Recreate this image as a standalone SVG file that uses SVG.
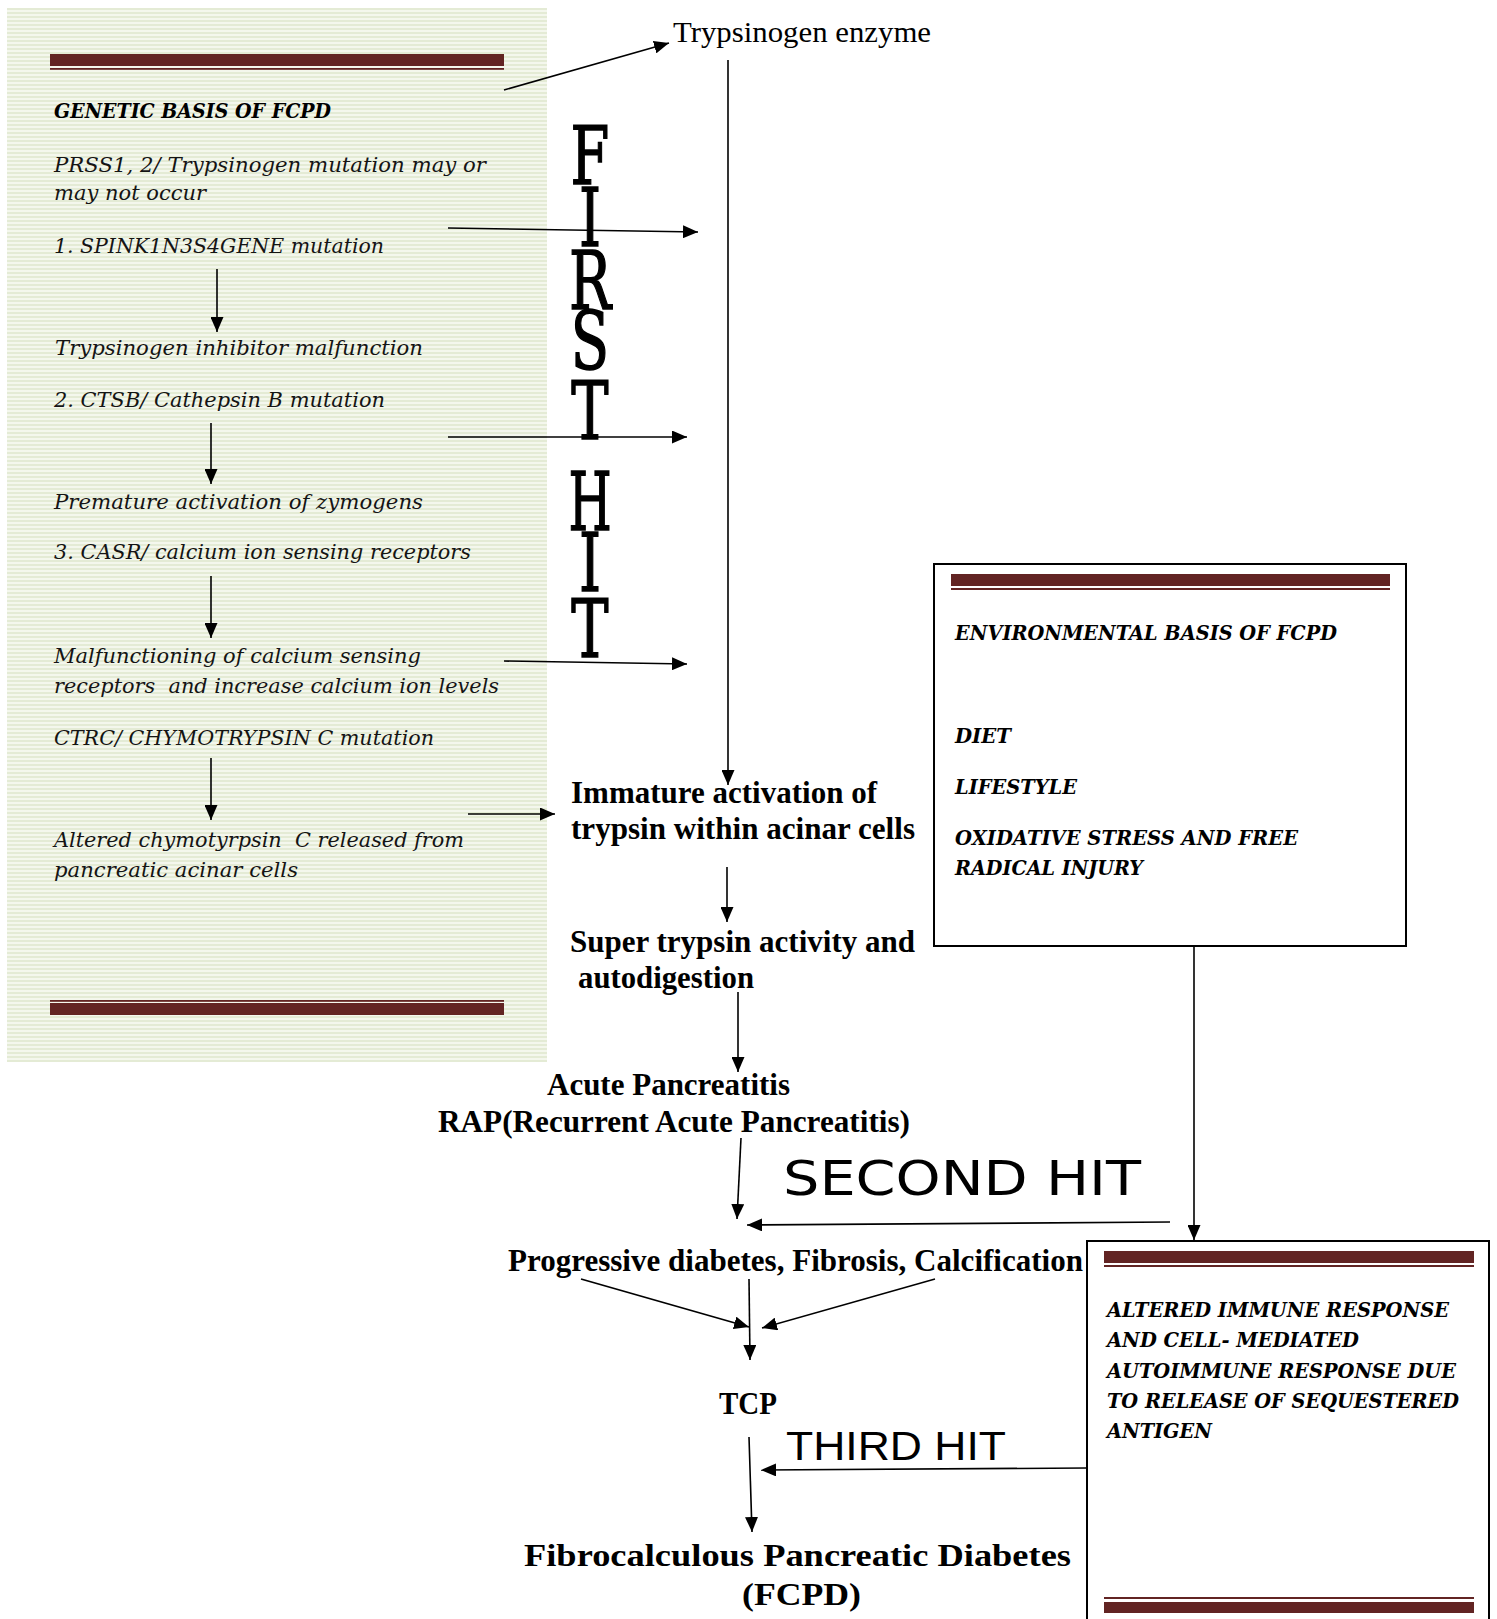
<svg xmlns="http://www.w3.org/2000/svg" width="1497" height="1619" viewBox="0 0 1497 1619">
<style>
.it{font-family:"DejaVu Serif",serif;font-style:italic;font-size:21px;fill:#141414}
.bi{font-family:"DejaVu Serif",serif;font-style:italic;font-weight:bold;font-size:21px;fill:#000}
.tb{font-family:"Liberation Serif","Times New Roman",serif;font-weight:bold;font-size:31px;fill:#000}
.tr{font-family:"Liberation Serif","Times New Roman",serif;font-size:30px;fill:#000}
.fh{font-family:"DejaVu Serif",serif;font-size:80px;fill:#000;stroke:#000;stroke-width:1.5}
.sh{font-family:"DejaVu Sans",sans-serif;font-size:48px;fill:#000}
.th{font-family:"Liberation Sans",Arial,sans-serif;font-size:41px;fill:#000}
.bar{fill:#622423}
.box{fill:#fff;stroke:#000;stroke-width:2}
.ln{stroke:#000;stroke-width:1.6;fill:none;marker-end:url(#ah)}
.pre{white-space:pre}
</style>
<defs>
<pattern id="stripes" width="8" height="4" patternUnits="userSpaceOnUse">
<rect width="8" height="4" fill="#f4f7ed"/>
<rect width="8" height="2" fill="#e4ebd5"/>
</pattern>
<marker id="ah" viewBox="0 0 15 13" refX="15" refY="6.5" markerWidth="15" markerHeight="13" markerUnits="userSpaceOnUse" orient="auto">
<path d="M0,0 L15,6.5 L0,13 z" fill="#000"/>
</marker>
</defs>
<rect width="1497" height="1619" fill="#fff"/>

<g id="genetic-panel">
<rect x="7" y="8" width="540" height="1054" fill="url(#stripes)"/>
<rect class="bar" x="50" y="54" width="454" height="12"/>
<rect class="bar" x="50" y="68" width="454" height="1.8"/>
<rect class="bar" x="50" y="1000" width="454" height="1.8"/>
<rect class="bar" x="50" y="1003" width="454" height="12"/>
<text class="bi" x="54" y="118" textLength="277" lengthAdjust="spacingAndGlyphs">GENETIC BASIS OF FCPD</text>
<text class="it" x="54" y="172" textLength="432" lengthAdjust="spacingAndGlyphs">PRSS1, 2/ Trypsinogen mutation may or</text>
<text class="it" x="54" y="200" textLength="152" lengthAdjust="spacingAndGlyphs">may not occur</text>
<text class="it" x="54" y="253" textLength="330" lengthAdjust="spacingAndGlyphs">1. SPINK1N3S4GENE mutation</text>
<text class="it" x="55" y="355" textLength="368" lengthAdjust="spacingAndGlyphs">Trypsinogen inhibitor malfunction</text>
<text class="it" x="54" y="407" textLength="331" lengthAdjust="spacingAndGlyphs">2. CTSB/ Cathepsin B mutation</text>
<text class="it" x="54" y="509" textLength="369" lengthAdjust="spacingAndGlyphs">Premature activation of zymogens</text>
<text class="it" x="54" y="559" textLength="417" lengthAdjust="spacingAndGlyphs">3. CASR/ calcium ion sensing receptors</text>
<text class="it" x="54" y="663" textLength="367" lengthAdjust="spacingAndGlyphs">Malfunctioning of calcium sensing</text>
<text class="it pre" x="54" y="693" textLength="445" lengthAdjust="spacingAndGlyphs">receptors  and increase calcium ion levels</text>
<text class="it" x="54" y="745" textLength="380" lengthAdjust="spacingAndGlyphs">CTRC/ CHYMOTRYPSIN C mutation</text>
<text class="it pre" x="54" y="847" textLength="410" lengthAdjust="spacingAndGlyphs">Altered chymotyrpsin  C released from</text>
<text class="it" x="54" y="877" textLength="244" lengthAdjust="spacingAndGlyphs">pancreatic acinar cells</text>
</g>

<g id="first-hit-label">
<text class="fh" text-anchor="middle" transform="translate(590,184) scale(0.7,1)">F</text>
<text class="fh" text-anchor="middle" transform="translate(590,246) scale(0.7,1)">I</text>
<text class="fh" text-anchor="middle" transform="translate(590,309) scale(0.7,1)">R</text>
<text class="fh" text-anchor="middle" transform="translate(590,369) scale(0.7,1)">S</text>
<text class="fh" text-anchor="middle" transform="translate(590,439) scale(0.7,1)">T</text>
<text class="fh" text-anchor="middle" transform="translate(590,530) scale(0.62,1)">H</text>
<text class="fh" text-anchor="middle" transform="translate(590,591) scale(0.7,1)">I</text>
<text class="fh" text-anchor="middle" transform="translate(590,657) scale(0.7,1)">T</text>
</g>

<g id="trypsinogen">
<text class="tr" x="673" y="42" textLength="258" lengthAdjust="spacingAndGlyphs">Trypsinogen enzyme</text>
</g>

<g id="immature-activation">
<text class="tb" x="571" y="803" textLength="306" lengthAdjust="spacingAndGlyphs">Immature activation of</text>
<text class="tb" x="571" y="839" textLength="344" lengthAdjust="spacingAndGlyphs">trypsin within acinar cells</text>
</g>

<g id="super-trypsin">
<text class="tb" x="570" y="952" textLength="345" lengthAdjust="spacingAndGlyphs">Super trypsin activity and</text>
<text class="tb" x="578" y="988" textLength="176" lengthAdjust="spacingAndGlyphs">autodigestion</text>
</g>

<g id="acute-pancreatitis">
<text class="tb" x="547" y="1095" textLength="243" lengthAdjust="spacingAndGlyphs">Acute Pancreatitis</text>
<text class="tb" x="438" y="1132" textLength="472" lengthAdjust="spacingAndGlyphs">RAP(Recurrent Acute Pancreatitis)</text>
</g>

<g id="progressive">
<text class="tb" x="508" y="1271" textLength="575" lengthAdjust="spacingAndGlyphs">Progressive diabetes, Fibrosis, Calcification</text>
</g>

<g id="tcp">
<text class="tb" x="719" y="1414" textLength="58" lengthAdjust="spacingAndGlyphs">TCP</text>
</g>

<g id="fcpd">
<text class="tb" x="524" y="1566" font-size="37" textLength="547" lengthAdjust="spacingAndGlyphs">Fibrocalculous Pancreatic Diabetes</text>
<text class="tb" x="742" y="1605" font-size="37" textLength="119" lengthAdjust="spacingAndGlyphs">(FCPD)</text>
</g>

<g id="environmental-box">
<rect class="box" x="934" y="564" width="472" height="382"/>
<rect class="bar" x="951" y="574" width="439" height="12"/>
<rect class="bar" x="951" y="588" width="439" height="2"/>
<text class="bi" x="955" y="640" textLength="382" lengthAdjust="spacingAndGlyphs">ENVIRONMENTAL BASIS OF FCPD</text>
<text class="bi" x="955" y="743" textLength="56" lengthAdjust="spacingAndGlyphs">DIET</text>
<text class="bi" x="955" y="794" textLength="122" lengthAdjust="spacingAndGlyphs">LIFESTYLE</text>
<text class="bi" x="955" y="845" textLength="343" lengthAdjust="spacingAndGlyphs">OXIDATIVE STRESS AND FREE</text>
<text class="bi" x="955" y="875" textLength="188" lengthAdjust="spacingAndGlyphs">RADICAL INJURY</text>
</g>

<g id="immune-box">
<rect class="box" x="1087" y="1241" width="402" height="420"/>
<rect class="bar" x="1104" y="1251" width="370" height="12"/>
<rect class="bar" x="1104" y="1265" width="370" height="2"/>
<rect class="bar" x="1104" y="1597" width="370" height="2"/>
<rect class="bar" x="1104" y="1602" width="370" height="11"/>
<text class="bi" x="1107" y="1317" textLength="342" lengthAdjust="spacingAndGlyphs">ALTERED IMMUNE RESPONSE</text>
<text class="bi" x="1107" y="1347" textLength="252" lengthAdjust="spacingAndGlyphs">AND CELL- MEDIATED</text>
<text class="bi" x="1107" y="1378" textLength="349" lengthAdjust="spacingAndGlyphs">AUTOIMMUNE RESPONSE DUE</text>
<text class="bi" x="1107" y="1408" textLength="352" lengthAdjust="spacingAndGlyphs">TO RELEASE OF SEQUESTERED</text>
<text class="bi" x="1107" y="1438" textLength="105" lengthAdjust="spacingAndGlyphs">ANTIGEN</text>
</g>

<g id="hit-labels">
<text class="sh" x="783" y="1195" textLength="358" lengthAdjust="spacingAndGlyphs">SECOND HIT</text>
<text class="th" x="786" y="1460" textLength="220" lengthAdjust="spacingAndGlyphs">THIRD HIT</text>
</g>

<g id="connectors">
<line class="ln" x1="217" y1="269" x2="217" y2="332"/>
<line class="ln" x1="211" y1="423" x2="211" y2="484"/>
<line class="ln" x1="211" y1="576" x2="211" y2="638"/>
<line class="ln" x1="211" y1="758" x2="211" y2="820"/>
<line class="ln" x1="504" y1="90" x2="669" y2="43"/>
<line class="ln" x1="448" y1="228" x2="698" y2="232"/>
<line class="ln" x1="448" y1="437" x2="687" y2="437"/>
<line class="ln" x1="504" y1="661" x2="687" y2="664"/>
<line class="ln" x1="468" y1="814" x2="555" y2="814"/>
<line class="ln" x1="728" y1="60" x2="728" y2="785"/>
<line class="ln" x1="727" y1="867" x2="727" y2="922"/>
<line class="ln" x1="738" y1="992" x2="738" y2="1072"/>
<line class="ln" x1="741" y1="1138" x2="737" y2="1219"/>
<line class="ln" x1="1170" y1="1222" x2="747" y2="1225"/>
<line class="ln" x1="1194" y1="946" x2="1194" y2="1240"/>
<line class="ln" x1="581" y1="1279" x2="749" y2="1327"/>
<line class="ln" x1="935" y1="1279" x2="762" y2="1328"/>
<line class="ln" x1="749" y1="1279" x2="750" y2="1360"/>
<line class="ln" x1="749" y1="1437" x2="752" y2="1532"/>
<line class="ln" x1="1087" y1="1468" x2="761" y2="1470"/>
</g>
</svg>
